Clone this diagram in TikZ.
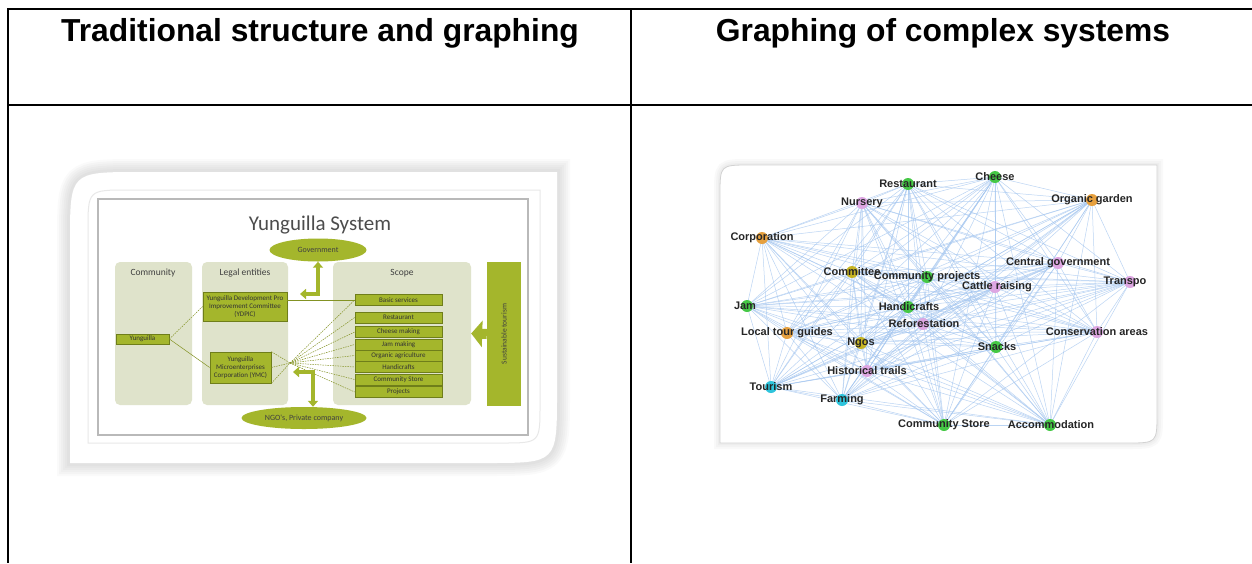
\documentclass[tikz,border=0pt]{standalone}
\usepackage{fontspec}
\setmainfont{Liberation Sans}
\newfontfamily\slidefont{Carlito}
\usetikzlibrary{positioning,shapes.geometric,arrows.meta,calc}

\definecolor{yolive}{HTML}{A4B62C}
\definecolor{ypanel}{HTML}{DFE3CB}
\definecolor{yedge}{HTML}{6F7E1A}
\definecolor{gedge}{HTML}{A4C6F0}
\definecolor{ggreen}{HTML}{45C845}
\definecolor{gpink}{HTML}{DDA6E2}
\definecolor{gorange}{HTML}{E6A03E}
\definecolor{gyellow}{HTML}{C6B424}
\definecolor{gcyan}{HTML}{2EC4DC}

\tikzset{
	colhead/.style={font=\fontsize{31.8}{36}\selectfont\bfseries},
	panel/.style={fill=ypanel, rounded corners=5pt, inner sep=0pt},
	ptitle/.style={font=\slidefont\fontsize{9.5}{11}\selectfont, text=black!75},
	sbox/.style={draw=yedge, fill=yolive, line width=.7pt, minimum width=87pt,
		minimum height=11pt, inner sep=0pt, font=\slidefont\fontsize{7}{8}\selectfont, text=black!80},
	lbox/.style={sbox, align=center, font=\slidefont\fontsize{7}{8.2}\selectfont},
	oval/.style={ellipse, fill=yolive, inner sep=0pt, font=\slidefont\fontsize{8}{9}\selectfont, text=black!75},
	linkline/.style={yolive!80!black, line width=.5pt},
	fanline/.style={linkline, dash pattern=on 1.5pt off 1pt},
	fatarrow/.style={yolive, line width=3.5pt,
		{Triangle[width=10pt,length=6pt]}-{Triangle[width=10pt,length=6pt]}},
	gdot/.style={circle, inner sep=0pt, minimum size=12pt},
	glabel/.style={font=\fontsize{11}{12}\selectfont\bfseries, text=black!85, inner sep=0pt},
	gline/.style={gedge, line width=.5pt, opacity=.75},
}

\begin{document}
\begin{tikzpicture}[x=1pt,y=-1pt]
	\useasboundingbox (0,0) rectangle (1252,563);
	
	% table
	\draw[line width=2.6pt] (7,9) -- (1252,9);
	\draw[line width=2.6pt] (7,105) -- (1252,105);
	\draw[line width=2.6pt] (8,9) -- (8,563);
	\draw[line width=2.6pt] (631,9) -- (631,563);
	\node[colhead] (h1) at (320,33) {Traditional structure and graphing};
	\node[colhead] (h2) at (943,33) {Graphing of complex systems};
	
	% left card
	\foreach \w in {26,22,18,14,10,6}
	\draw[gray, line width=\w pt, opacity=.045] (70,463) -- (70,242) .. controls (70,172) .. (140,172)
	-- (557,172) -- (557,393) .. controls (557,463) .. (487,463) -- cycle;
	\fill[white] (70,463) -- (70,242) .. controls (70,172) .. (140,172)
	-- (557,172) -- (557,393) .. controls (557,463) .. (487,463) -- cycle;
	\draw[gray!18, line width=1pt] (88,443) -- (88,230) .. controls (88,190) .. (128,190)
	-- (540,190) -- (540,405) .. controls (540,443) .. (502,443) -- cycle;
	\draw[gray!55, line width=1.3pt, fill=white] (98,199) rectangle (528,435);
	
	\node[font=\slidefont\fontsize{21}{24}\selectfont, text=black!70] (ttl) at (320,225) {Yunguilla System};
	\node[oval, minimum width=97pt, minimum height=23pt] (gov) at (318,250) {Government};
	
	% panels
	\node[panel, minimum width=77pt, minimum height=143pt] (comm) at (153.5,333.5) {};
	\node[panel, minimum width=86pt, minimum height=143pt] (legal) at (245,333.5) {};
	\node[panel, minimum width=138pt, minimum height=143pt] (scope) at (402,333.5) {};
	\node[fill=yolive, minimum width=34pt, minimum height=144pt, inner sep=0pt] (bar) at (504,334) {};
	\node[rotate=90, font=\slidefont\fontsize{7.5}{9}\selectfont, text=black!75] (bar-t) at (bar) {Sustainable tourism};
	\node[ptitle] (comm-t) at (153,273) {Community};
	\node[ptitle] (legal-t) at (245,273) {Legal entities};
	\node[ptitle] (scope-t) at (402,273) {Scope};
	
	% boxes
	\node[sbox, minimum width=53pt, minimum height=10pt] (yun) at (142.5,339) {Yunguilla};
	\node[lbox, minimum width=84pt, minimum height=29pt] (ydc) at (245,306.5)
	{Yunguilla Development Pro\\Improvement Committee\\(YDPIC)};
	\node[lbox, minimum width=61pt, minimum height=31pt] (ymc) at (240.5,367.5)
	{Yunguilla\\Microenterprises\\Corporation (YMC)};
	\foreach \n/\y/\t in {s1/300/Basic services, s2/317.5/Restaurant, s3/332/Cheese making,
		s4/344.5/Jam making, s5/355.5/Organic agriculture, s6/367/Handicrafts,
		s7/379.5/Community Store, s8/392/Projects}
	\node[sbox] (\n) at (398.5,\y) {\t};
	\node[oval, minimum width=125pt, minimum height=22pt] (ngo) at (304,418) {NGO's, Private company};
	
	% links
	\draw[fanline] (yun.east) -- (ydc.west);
	\draw[linkline] (yun.east) -- (ymc.west);
	\draw[linkline] (ydc.east |- s1.west) -- (s1.west);
	\coordinate (hub) at (290,363);
	\draw[fanline] (ymc.north east) -- (hub);
	\draw[fanline] (ymc.east) -- (hub);
	\draw[fanline] (ymc.south east) -- (hub);
	\foreach \n in {s1,s2,s3,s4,s5,s6,s7,s8}
	\draw[fanline] (hub) -- (\n.west);
	
	% thick arrows
	\coordinate (govend) at (300,294);
	\draw[fatarrow] (gov.south) |- (govend);
	\coordinate (ngoend) at (293,372);
	\draw[fatarrow] (ngoend) -| ([xshift=9pt]ngo.north);
	\draw[yolive, line width=10pt, -{Triangle[width=26pt,length=11pt]}] (bar.west) -- (scope.east);
	
	% right card
	\foreach \w in {12,8,4}
	\draw[gray, line width=\w pt, opacity=.05] (720,443) -- (720,195) .. controls (720,165) .. (750,165)
	-- (1157,165) -- (1157,413) .. controls (1157,443) .. (1127,443) -- cycle;
	\draw[gray!35, fill=white, line width=.8pt] (720,443) -- (720,195) .. controls (720,165) .. (750,165)
	-- (1157,165) -- (1157,413) .. controls (1157,443) .. (1127,443) -- cycle;
	
	% network
	\def\glist{rest,chee,nurs,orga,corp,cgov,comt,cpro,catt,tran,jam,hand,refo,ltou,cons,ngos,snac,hist,tour,farm,csto,acco}
	\foreach \n/\x/\y in {rest/908/184, chee/995/177, nurs/862/203, orga/1092/200, corp/762/238,
		cgov/1058/263, comt/852/272, cpro/927/277, catt/995/287, tran/1130/282, jam/747/306,
		hand/908/307, refo/923/324, ltou/787/333, cons/1097/332, ngos/861/343, snac/996/347,
		hist/867/371, tour/771/387, farm/842/400, csto/944/425, acco/1050/425}
	\coordinate (\n) at (\x,\y);
	\foreach \a [count=\i] in \glist {
		\foreach \b [count=\j] in \glist {
			\ifnum\j>\i \draw[gline] (\a) -- (\b); \fi
		}
	}
	\foreach \n/\c/\dx/\t in {rest/ggreen/0/Restaurant, chee/ggreen/0/Cheese, nurs/gpink/0/Nursery,
		orga/gorange/0/Organic garden, corp/gorange/0/Corporation, cgov/gpink/0/Central government,
		comt/gyellow/0/Committee, cpro/ggreen/0/Community projects, catt/gpink/2/Cattle raising,
		tran/gpink/-5/Transpo, jam/ggreen/-2/Jam, hand/ggreen/1/Handicrafts, refo/gpink/1/Reforestation,
		ltou/gorange/0/Local tour guides, cons/gpink/0/Conservation areas, ngos/gyellow/0/Ngos,
		snac/ggreen/1/Snacks, hist/gpink/0/Historical trails, tour/gcyan/0/Tourism,
		farm/gcyan/0/Farming, csto/ggreen/0/Community Store, acco/ggreen/1/Accommodation}
	{
		\node[gdot, fill=\c] (\n-dot) at (\n) {};
		\node[glabel] (\n-lbl) at ([xshift=\dx pt]\n) {\t};
	}
	
\end{tikzpicture}
\end{document}
